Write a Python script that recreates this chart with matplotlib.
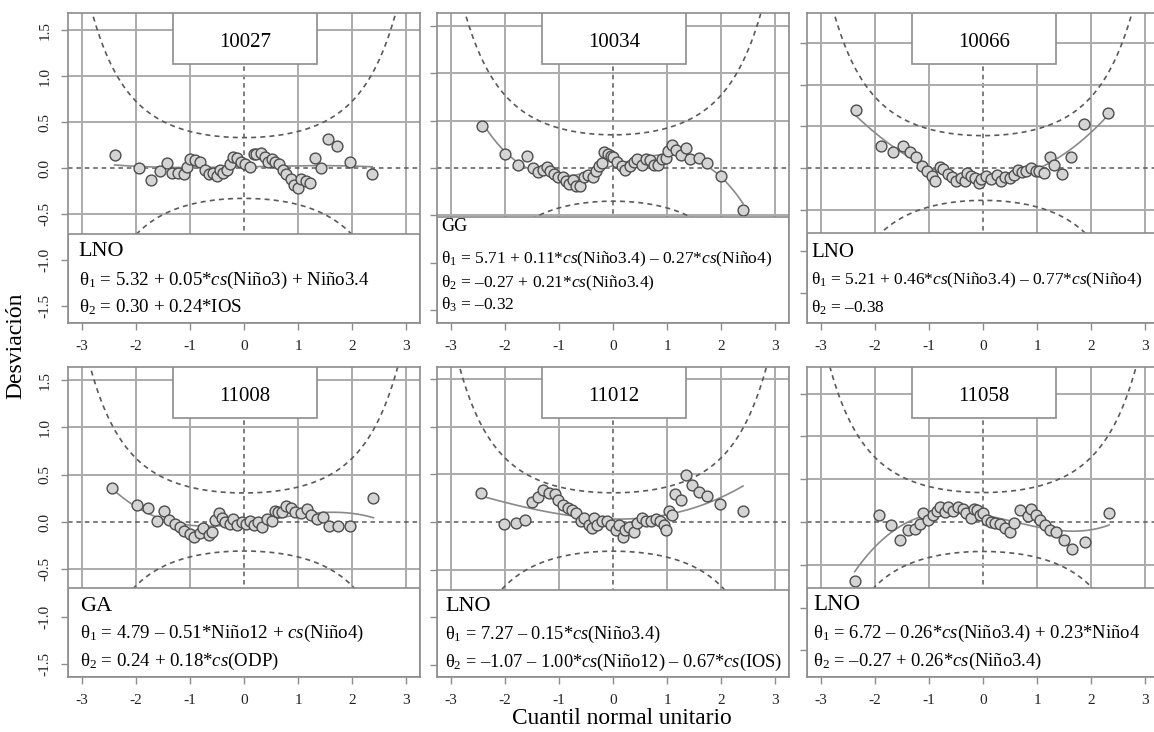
import math
import numpy as np
import matplotlib
matplotlib.use("Agg")
import matplotlib.pyplot as plt
from matplotlib.patches import Rectangle

plt.rcParams["font.family"] = ["Liberation Serif", "DejaVu Serif"]
plt.rcParams["mathtext.fontset"] = "custom"
plt.rcParams["mathtext.rm"] = "Liberation Serif"
plt.rcParams["mathtext.it"] = "Liberation Serif:italic"
plt.rcParams["axes.unicode_minus"] = False

# ---- data ----
stations = ["10027", "10034", "10066", "11008", "11012", "11058"]
distributions = ["LNO", "GG", "LNO", "GA", "LNO", "LNO"]
equations = [
    [r"$\mathrm{\theta}_1$ = 5.32 + 0.05*$\mathit{cs}$(Niño3) + Niño3.4",
     r"$\mathrm{\theta}_2$ = 0.30 + 0.24*IOS"],
    [r"$\mathrm{\theta}_1$ = 5.71 + 0.11*$\mathit{cs}$(Niño3.4) – 0.27*$\mathit{cs}$(Niño4)",
     r"$\mathrm{\theta}_2$ = –0.27 + 0.21*$\mathit{cs}$(Niño3.4)",
     r"$\mathrm{\theta}_3$ = –0.32"],
    [r"$\mathrm{\theta}_1$ = 5.21 + 0.46*$\mathit{cs}$(Niño3.4) – 0.77*$\mathit{cs}$(Niño4)",
     r"$\mathrm{\theta}_2$ = –0.38"],
    [r"$\mathrm{\theta}_1$ = 4.79 – 0.51*Niño12 + $\mathit{cs}$(Niño4)",
     r"$\mathrm{\theta}_2$ = 0.24 + 0.18*$\mathit{cs}$(ODP)"],
    [r"$\mathrm{\theta}_1$ = 7.27 – 0.15*$\mathit{cs}$(Niño3.4)",
     r"$\mathrm{\theta}_2$ = –1.07 – 1.00*$\mathit{cs}$(Niño12) – 0.67*$\mathit{cs}$(IOS)"],
    [r"$\mathrm{\theta}_1$ = 6.72 – 0.26*$\mathit{cs}$(Niño3.4) + 0.23*Niño4",
     r"$\mathrm{\theta}_2$ = –0.27 + 0.26*$\mathit{cs}$(Niño3.4)"],
]
n_obs = [55, 49, 40, 64, 64, 51]  # sample size behind the 95% worm bands

x_10027 = [-2.39, -1.94, -1.72, -1.56, -1.43, -1.33, -1.22, -1.11, -1.06, -0.99,
           -0.90, -0.81, -0.72, -0.65, -0.57, -0.49, -0.44, -0.38, -0.32, -0.26,
           -0.21, -0.13, -0.06, 0.02, 0.12, 0.18, 0.23, 0.32, 0.39, 0.45,
           0.51, 0.57, 0.65, 0.72, 0.78, 0.86, 0.92, 1.00, 1.06, 1.14,
           1.21, 1.31, 1.43, 1.55, 1.71, 1.96, 2.37]
y_10027 = [0.14, 0.00, -0.13, -0.03, 0.055, -0.05, -0.05, -0.07, 0.01, 0.10,
           0.09, 0.06, -0.02, -0.07, -0.05, -0.085, -0.02, -0.05, -0.02, 0.045,
           0.125, 0.11, 0.06, 0.045, 0.01, 0.15, 0.155, 0.16, 0.125, 0.07,
           0.10, 0.06, 0.045, -0.02, -0.07, -0.12, -0.18, -0.22, -0.12, -0.14,
           -0.16, 0.11, 0.00, 0.32, 0.235, 0.07, -0.06]

x_10034 = [-2.42, -1.99, -1.76, -1.59, -1.48, -1.39, -1.30, -1.21, -1.17, -1.09,
           -1.02, -0.93, -0.87, -0.81, -0.74, -0.69, -0.61, -0.53, -0.47, -0.37,
           -0.31, -0.26, -0.21, -0.17, -0.10, -0.04, 0.00, 0.08, 0.16, 0.23,
           0.31, 0.39, 0.45, 0.53, 0.61, 0.69, 0.75, 0.83, 0.90, 0.97,
           1.02, 1.09, 1.17, 1.25, 1.35, 1.43, 1.58, 1.74, 1.99, 2.40]
y_10034 = [0.44, 0.15, 0.03, 0.13, 0.00, -0.04, -0.02, 0.01, -0.03, -0.06,
           -0.10, -0.10, -0.14, -0.17, -0.13, -0.19, -0.19, -0.10, -0.07, -0.10,
           -0.03, 0.025, 0.05, 0.17, 0.15, 0.13, 0.12, 0.06, 0.025, -0.02,
           0.025, 0.06, 0.095, 0.03, 0.09, 0.08, 0.03, 0.03, 0.095, 0.11,
           0.18, 0.24, 0.19, 0.14, 0.21, 0.10, 0.11, 0.05, -0.08, -0.44]

x_10066 = [-2.35, -1.88, -1.66, -1.48, -1.35, -1.24, -1.12, -1.04, -0.95, -0.88,
           -0.80, -0.74, -0.64, -0.57, -0.49, -0.41, -0.34, -0.29, -0.23, -0.15,
           -0.08, -0.03, 0.06, 0.15, 0.25, 0.33, 0.40, 0.49, 0.57, 0.64,
           0.72, 0.80, 0.89, 0.98, 1.04, 1.12, 1.23, 1.32, 1.46, 1.63,
           1.87, 2.31]
y_10066 = [0.70, 0.26, 0.195, 0.26, 0.195, 0.13, 0.03, -0.03, -0.10, -0.15,
           0.01, -0.01, -0.07, -0.11, -0.15, -0.12, -0.16, -0.06, -0.09, -0.12,
           -0.18, -0.13, -0.09, -0.13, -0.08, -0.16, -0.11, -0.12, -0.08, -0.02,
           -0.05, -0.04, 0.00, -0.03, -0.03, -0.06, 0.13, 0.04, -0.07, 0.13,
           0.53, 0.66]

x_11008 = [-2.43, -1.98, -1.77, -1.60, -1.47, -1.38, -1.28, -1.19, -1.10, -1.00,
           -0.92, -0.81, -0.75, -0.65, -0.59, -0.53, -0.47, -0.41, -0.35, -0.26,
           -0.20, -0.13, -0.04, 0.04, 0.11, 0.18, 0.26, 0.34, 0.42, 0.51,
           0.57, 0.63, 0.71, 0.78, 0.87, 0.95, 1.06, 1.16, 1.24, 1.35,
           1.46, 1.57, 1.73, 1.96, 2.39]
y_11008 = [0.36, 0.18, 0.15, 0.01, 0.12, 0.02, -0.02, -0.05, -0.09, -0.13,
           -0.16, -0.12, -0.06, -0.14, -0.11, 0.02, 0.09, 0.04, 0.00, -0.02,
           0.035, -0.035, 0.00, -0.02, 0.007, -0.035, 0.00, -0.05, 0.035, 0.007,
           0.12, 0.105, 0.105, 0.17, 0.15, 0.105, 0.09, 0.14, 0.07, 0.03,
           0.05, -0.04, -0.04, -0.04, 0.25]

x_11012 = [-2.44, -2.01, -1.79, -1.62, -1.50, -1.39, -1.29, -1.18, -1.07, -1.01,
           -0.92, -0.84, -0.76, -0.69, -0.60, -0.53, -0.44, -0.39, -0.35, -0.29,
           -0.20, -0.12, -0.04, 0.05, 0.11, 0.18, 0.22, 0.29, 0.39, 0.45,
           0.54, 0.61, 0.71, 0.79, 0.86, 0.94, 0.97, 1.03, 1.09, 1.15,
           1.25, 1.35, 1.45, 1.58, 1.74, 1.98, 2.40]
y_11012 = [0.30, -0.02, -0.01, 0.02, 0.21, 0.26, 0.34, 0.31, 0.29, 0.23,
           0.18, 0.15, 0.13, 0.095, 0.007, 0.04, -0.03, -0.06, 0.04, -0.03,
           0.007, 0.007, -0.03, -0.08, -0.03, -0.16, -0.08, -0.05, -0.11, -0.01,
           0.04, 0.007, 0.007, 0.03, 0.007, -0.03, -0.08, 0.12, 0.07, 0.29,
           0.23, 0.49, 0.39, 0.32, 0.27, 0.19, 0.12]

x_11058 = [-2.37, -1.92, -1.69, -1.53, -1.38, -1.26, -1.17, -1.10, -1.02, -0.92,
           -0.85, -0.80, -0.71, -0.65, -0.55, -0.46, -0.37, -0.32, -0.23, -0.17,
           -0.12, -0.06, 0.00, 0.07, 0.15, 0.23, 0.31, 0.40, 0.49, 0.57,
           0.68, 0.83, 0.89, 0.98, 1.05, 1.14, 1.24, 1.34, 1.49, 1.65,
           1.88, 2.33]
y_11058 = [-0.69, 0.08, -0.04, -0.21, -0.09, -0.08, -0.02, 0.10, 0.02, 0.08,
           0.13, 0.18, 0.12, 0.17, 0.13, 0.175, 0.155, 0.105, 0.05, 0.155,
           0.135, 0.08, 0.10, 0.027, 0.00, -0.01, -0.02, -0.065, -0.12, -0.01,
           0.135, 0.065, 0.155, 0.08, 0.02, -0.04, -0.09, -0.12, -0.21, -0.32,
           -0.23, 0.11]

x_series = [x_10027, x_10034, x_10066, x_11008, x_11012, x_11058]
y_series = [y_10027, y_10034, y_10066, y_11008, y_11012, y_11058]

x_ticks = [-3, -2, -1, 0, 1, 2, 3]
x_tick_labels = ["-3", "-2", "-1", "0", "1", "2", "3"]
y_ticks = [-1.5, -1.0, -0.5, 0.0, 0.5, 1.0, 1.5]
y_tick_labels = ["-1.5", "-1.0", "-0.5", "0.0", "0.5", "1.0", "1.5"]

# ---- layout (pixels of the 1154x732 canvas) ----
W, H = 1154, 732
col_left = [68, 437, 807]
row_top = [13, 367]
pw, ph = 352, 310
y_half = [1.69, 1.64, 1.86, 1.64, 1.63, 1.81]
box_top = [0.287, 0.342, 0.29, 0.287, 0.281, 0.288]
text_x = [0.03, 0.012, 0.012, 0.034, 0.023, 0.017]
text_rows = [[0.215, 0.124, 0.035], [0.298, 0.193, 0.115, 0.042],
             [0.214, 0.123, 0.035], [0.214, 0.125, 0.035],
             [0.214, 0.122, 0.033], [0.216, 0.125, 0.035]]
label_size = [16, 13, 15, 16, 16, 16.5]
eq_size = [13.6, 12.5, 12.5, 13.6, 13.2, 13.4]

grid_col = "#ababab"
dash_col = "#5a5a5a"
edge_col = "#8c8c8c"


def band(z, n):
    p = 0.5 * (1 + np.vectorize(math.erf)(z / math.sqrt(2)))
    dens = np.exp(-z ** 2 / 2) / math.sqrt(2 * math.pi)
    return 1.96 * np.sqrt(p * (1 - p) / n) / dens


fig = plt.figure(figsize=(W / 100, H / 100), dpi=100)

for i in range(6):
    r, c = divmod(i, 3)
    ax = fig.add_axes([col_left[c] / W, 1 - (row_top[r] + ph) / H, pw / W, ph / H])
    ax.set_xlim(-3.25, 3.25)
    ax.set_ylim(-y_half[i], y_half[i])

    # grid
    for v in x_ticks:
        if v == 0:
            ax.axvline(v, color=dash_col, lw=1.1, ls=(0, (3, 2.5)), zorder=1)
        else:
            ax.axvline(v, color=grid_col, lw=1.4, zorder=1)
    for v in y_ticks:
        if v == 0:
            ax.axhline(v, color=dash_col, lw=1.1, ls=(0, (3, 2.5)), zorder=1)
        else:
            ax.axhline(v, color=grid_col, lw=1.4, zorder=1)

    # confidence bands
    z = np.linspace(-3.3, 3.3, 400)
    b = band(z, n_obs[i])
    ax.plot(z, b, color=dash_col, lw=1.2, ls=(0, (3, 2.5)), zorder=2)
    ax.plot(z, -b, color=dash_col, lw=1.2, ls=(0, (3, 2.5)), zorder=2)

    # cubic fit and points
    xs = np.array(x_series[i])
    ys = np.array(y_series[i])
    coef = np.polyfit(xs, ys, 3)
    xf = np.linspace(xs.min(), xs.max(), 200)
    ax.plot(xf, np.polyval(coef, xf), color="#8a8a8a", lw=1.2, zorder=3)
    ax.plot(xs, ys, "o", ms=7.8, mfc="#d4d4d4", mec="#4d4d4d", mew=1.0, zorder=4)

    # station title box
    ax.add_patch(Rectangle((0.298, 0.835), 0.41, 0.2, transform=ax.transAxes,
                           facecolor="white", edgecolor=edge_col, lw=1.2, zorder=5))
    ax.text(0.503, 0.889, stations[i], transform=ax.transAxes, ha="center",
            va="baseline", fontsize=15, zorder=6)

    # model text box
    ax.add_patch(Rectangle((0, 0), 1, box_top[i], transform=ax.transAxes,
                           facecolor="white", edgecolor=edge_col, lw=1.2, zorder=5))
    ax.text(text_x[i], text_rows[i][0], distributions[i], transform=ax.transAxes,
            ha="left", va="baseline", fontsize=label_size[i], zorder=6)
    for k, eq in enumerate(equations[i]):
        ax.text(text_x[i], text_rows[i][k + 1], eq, transform=ax.transAxes,
                ha="left", va="baseline", fontsize=eq_size[i], zorder=6)

    # axes styling
    for sp in ax.spines.values():
        sp.set_color(edge_col)
        sp.set_linewidth(1.2)
        sp.set_zorder(7)
    ax.set_xticks(x_ticks)
    ax.set_xticklabels(x_tick_labels)
    ax.set_yticks(y_ticks)
    if c == 0:
        ax.set_yticklabels(y_tick_labels, rotation=90, va="center")
    else:
        ax.set_yticklabels([])
    ax.tick_params(direction="out", length=5, width=1, color=edge_col,
                   labelsize=11, labelcolor="#222222", pad=7)

fig.text(16 / W, 1 - 346 / H, "Desviación", rotation=90, ha="center",
         va="center", fontsize=17)
fig.text(622 / W, 1 - 718 / H, "Cuantil normal unitario", ha="center",
         va="center", fontsize=16.8)

fig.savefig("out.png", dpi=100)
